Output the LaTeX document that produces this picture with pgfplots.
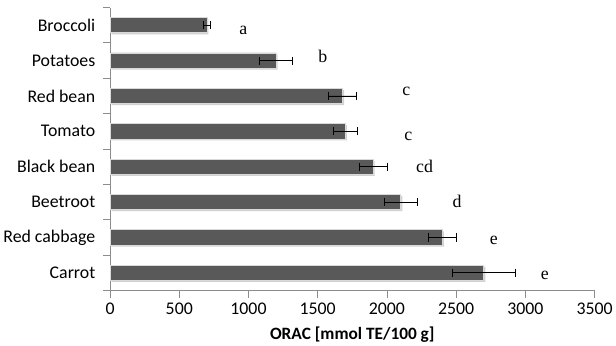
\documentclass[border=0pt]{standalone}
\usepackage{pgfplots}
\pgfplotsset{compat=1.18}
\usepackage{pgfplotstable}
\usepackage{fontspec}
\setmainfont{Carlito}
\newfontfamily\letterfont{Liberation Serif}
\definecolor{barfill}{HTML}{595959}
\definecolor{axgray}{HTML}{8C8C8C}
\pgfplotstableread{
y val err
0 2700 225
1 2400 100
2 2100 120
3 1900 100
4 1700 85
5 1680 100
6 1200 120
7 700 25
}\data
\begin{document}
\begin{tikzpicture}
\begin{axis}[
  scale only axis,
  width=476pt, height=278pt,
  xmin=0, xmax=3500,
  ymin=-0.5, ymax=7.5,
  axis x line*=bottom,
  axis y line*=left,
  axis line style={axgray, line width=0.8pt},
  xtick={0,500,...,3500},
  ytick={-0.5,0.5,...,7.5},
  y tick label as interval,
  yticklabels={Carrot,Red cabbage,Beetroot,Black bean,Tomato,Red bean,Potatoes,Broccoli},
  xtick style={draw=axgray, line width=0.8pt},
  ytick style={draw=axgray, line width=0.8pt},
  xtick align=outside,
  ytick align=outside,
  ytick pos=left,
  major tick length=7pt,
  tick label style={font=\fontsize{17.5}{20}\selectfont, black},
  yticklabel style={xshift=-4pt},
  xticklabel style={yshift=-2pt},
  /pgf/number format/assume math mode=true,
  /pgf/number format/1000 sep={},
  xlabel={\textbf{ORAC [mmol TE/100 g]}},
  xlabel style={font=\fontsize{17}{20}\selectfont, yshift=-5pt},
  clip=false,
]
\addplot[xbar, bar width=15pt, bar shift=-1.5pt, fill=black!18, draw=none, xshift=1.5pt, forget plot]
  table[x=val, y=y] {\data};
\addplot[xbar, bar width=15pt, bar shift=0pt, fill=barfill, draw=black!15, line width=0.8pt,
  error bars/.cd, x dir=both, x explicit, error bar style={black, line width=0.7pt}, error mark options={rotate=90, mark size=4pt, black, line width=0.7pt}]
  table[x=val, y=y, x error=err] {\data};
\begin{scope}[font=\letterfont\fontsize{17.5}{20}\selectfont]
\node at (axis cs:963,6.85) {a};
\node at (axis cs:1537,6.13) {b};
\node at (axis cs:2140,5.12) {c};
\node at (axis cs:2154,3.86) {c};
\node at (axis cs:2272,3.0) {cd};
\node at (axis cs:2507,2.03) {d};
\node at (axis cs:2772,0.92) {e};
\node at (axis cs:3140,-0.06) {e};
\end{scope}
\end{axis}
\path ([yshift=7pt]current bounding box.north) coordinate (tm);
\end{tikzpicture}
\end{document}
